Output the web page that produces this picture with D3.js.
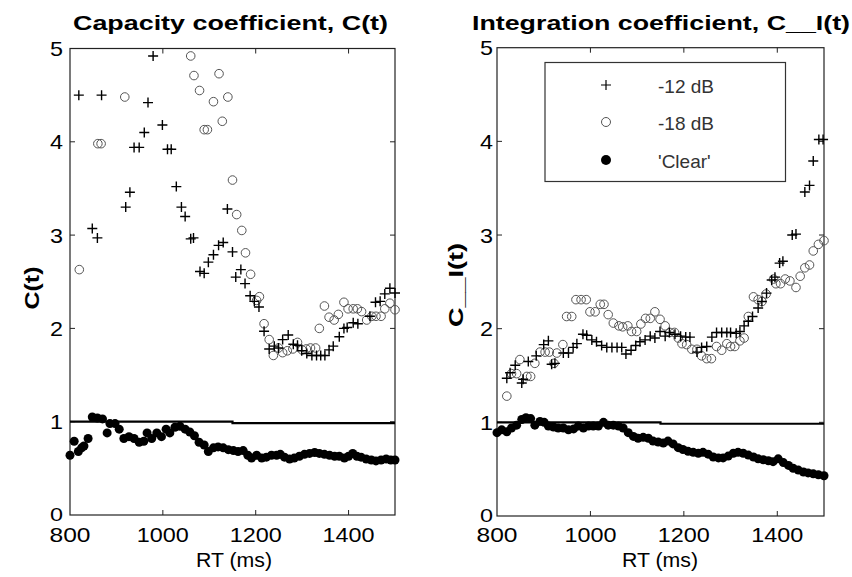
<!DOCTYPE html>
<html><head><meta charset="utf-8">
<script src="https://cdn.jsdelivr.net/npm/d3@7"></script>
<style>body{margin:0;background:#fff}svg{display:block}text{font-family:"Liberation Sans",Arial,sans-serif}</style>
</head><body>
<script>
const xTicks = [800, 1000, 1200, 1400];
const yTicks = [0, 1, 2, 3, 4, 5];
const legendLabels = ["-12 dB", "-18 dB", "'Clear'"];
// reference line (two segments)
const refLine = [[800, 1.0], [1150, 1.0], [1150, 0.985], [1500, 0.985]];

// Capacity coefficient C(t)
const capM12 = [[819,4.50],[848,3.07],[859,2.97],[868,4.50],[920,3.30],[929,3.46],[938,3.94],[949,3.94],[960,4.10],[968,4.42],[979,4.92],[999,4.18],[1010,3.92],[1018,3.92],[1029,3.52],[1040,3.30],[1048,3.20],[1060,2.96],[1066,2.97],[1080,2.61],[1089,2.59],[1098,2.71],[1109,2.79],[1120,2.89],[1130,2.92],[1139,3.28],[1150,2.82],[1157,2.55],[1168,2.63],[1177,2.48],[1188,2.35],[1197,2.29],[1207,2.23],[1218,1.97],[1229,1.78],[1240,1.81],[1249,1.79],[1258,1.88],[1270,1.93],[1281,1.83],[1290,1.82],[1299,1.76],[1310,1.73],[1321,1.71],[1331,1.71],[1340,1.71],[1349,1.71],[1358,1.77],[1367,1.81],[1380,1.91],[1390,2.00],[1397,2.01],[1410,2.06],[1420,2.05],[1446,2.13],[1458,2.28],[1468,2.29],[1478,2.37],[1489,2.43],[1500,2.38]];
const capM18 = [[820,2.63],[860,3.98],[867,3.98],[918,4.48],[1060,4.92],[1067,4.71],[1079,4.55],[1089,4.13],[1096,4.13],[1109,4.43],[1121,4.73],[1128,4.22],[1140,4.48],[1150,3.59],[1159,3.22],[1170,3.05],[1178,2.81],[1189,2.58],[1202,2.30],[1208,2.34],[1218,2.05],[1229,1.88],[1238,1.71],[1249,1.79],[1258,1.74],[1268,1.76],[1280,1.78],[1290,1.85],[1300,1.77],[1309,1.78],[1318,1.79],[1329,1.79],[1337,2.00],[1348,2.24],[1358,2.12],[1369,2.09],[1378,2.15],[1390,2.28],[1399,2.21],[1410,2.21],[1419,2.21],[1428,2.18],[1439,2.09],[1450,2.13],[1459,2.13],[1470,2.13],[1478,2.21],[1489,2.27],[1500,2.20]];
const capClear = [[800,0.64],[809,0.79],[818,0.68],[825,0.72],[830,0.74],[839,0.82],[848,1.05],[859,1.04],[870,1.03],[880,0.88],[886,0.98],[897,0.98],[906,0.92],[916,0.82],[927,0.84],[938,0.82],[949,0.78],[959,0.79],[966,0.88],[976,0.82],[987,0.88],[997,0.84],[1007,0.92],[1015,0.88],[1026,0.94],[1037,0.95],[1048,0.92],[1058,0.89],[1068,0.85],[1078,0.78],[1089,0.75],[1098,0.68],[1109,0.72],[1119,0.73],[1130,0.72],[1141,0.70],[1152,0.69],[1162,0.68],[1173,0.69],[1183,0.64],[1191,0.61],[1202,0.64],[1213,0.61],[1223,0.62],[1234,0.64],[1245,0.64],[1253,0.65],[1262,0.62],[1273,0.60],[1283,0.61],[1294,0.63],[1305,0.65],[1316,0.66],[1327,0.67],[1337,0.66],[1348,0.65],[1359,0.64],[1370,0.63],[1380,0.63],[1391,0.61],[1400,0.63],[1409,0.66],[1418,0.63],[1427,0.62],[1438,0.60],[1449,0.59],[1459,0.58],[1470,0.59],[1481,0.60],[1491,0.59],[1500,0.59]];

// Integration coefficient C_I(t)
const intM12 = [[821,1.47],[828,1.53],[839,1.61],[853,1.42],[856,1.46],[867,1.65],[884,1.71],[900,1.83],[910,1.87],[917,1.62],[924,1.63],[942,1.74],[953,1.74],[963,1.80],[971,1.84],[984,1.94],[992,1.93],[1003,1.88],[1013,1.86],[1024,1.82],[1035,1.80],[1046,1.80],[1057,1.80],[1067,1.80],[1076,1.73],[1087,1.77],[1097,1.82],[1106,1.86],[1117,1.88],[1128,1.92],[1138,1.90],[1149,1.97],[1160,1.92],[1169,1.96],[1181,1.94],[1193,1.92],[1204,1.91],[1213,1.91],[1228,1.75],[1238,1.80],[1249,1.81],[1260,1.91],[1270,1.96],[1281,1.96],[1292,1.96],[1300,1.96],[1312,1.95],[1320,1.97],[1329,2.03],[1338,2.08],[1347,2.13],[1359,2.22],[1367,2.29],[1377,2.38],[1388,2.52],[1395,2.55],[1405,2.70],[1412,2.72],[1432,3.00],[1440,3.01],[1459,3.46],[1469,3.53],[1477,3.79],[1489,4.02],[1498,4.02]];
const intM18 = [[821,1.28],[831,1.52],[842,1.52],[849,1.67],[864,1.49],[872,1.49],[881,1.63],[892,1.75],[903,1.75],[912,1.75],[922,1.63],[928,1.74],[941,1.83],[949,2.13],[960,2.13],[969,2.31],[980,2.31],[991,2.31],[999,2.18],[1010,2.18],[1021,2.26],[1029,2.26],[1038,2.15],[1049,2.06],[1061,2.03],[1069,2.02],[1080,2.03],[1088,1.97],[1099,1.97],[1108,2.05],[1118,2.11],[1128,2.11],[1138,2.18],[1149,2.10],[1160,2.03],[1170,1.96],[1180,1.96],[1188,1.90],[1196,1.84],[1206,1.83],[1217,1.78],[1228,1.78],[1238,1.71],[1249,1.68],[1259,1.68],[1270,1.81],[1281,1.77],[1292,1.84],[1300,1.81],[1309,1.81],[1320,1.87],[1329,1.90],[1338,2.13],[1349,2.34],[1359,2.31],[1367,2.29],[1376,2.37],[1392,2.53],[1397,2.48],[1407,2.48],[1417,2.53],[1427,2.51],[1440,2.44],[1449,2.56],[1459,2.65],[1469,2.68],[1477,2.83],[1488,2.90],[1500,2.94]];
const intClear = [[800,0.89],[810,0.92],[821,0.90],[831,0.94],[842,0.97],[853,1.03],[862,1.05],[872,1.04],[881,0.97],[892,1.01],[901,1.00],[910,0.96],[921,0.95],[931,0.94],[942,0.94],[953,0.92],[964,0.93],[974,0.96],[985,0.94],[996,0.96],[1006,0.96],[1017,0.96],[1028,1.00],[1038,0.97],[1049,0.97],[1060,0.96],[1070,0.94],[1081,0.89],[1092,0.85],[1102,0.83],[1113,0.84],[1124,0.83],[1134,0.80],[1145,0.79],[1156,0.78],[1166,0.80],[1177,0.77],[1188,0.73],[1198,0.71],[1209,0.69],[1220,0.68],[1231,0.67],[1241,0.68],[1252,0.66],[1263,0.63],[1274,0.62],[1284,0.62],[1295,0.64],[1306,0.67],[1316,0.68],[1327,0.67],[1338,0.65],[1349,0.63],[1359,0.61],[1370,0.60],[1381,0.59],[1391,0.58],[1402,0.61],[1413,0.57],[1424,0.54],[1434,0.51],[1445,0.49],[1456,0.47],[1466,0.46],[1477,0.45],[1488,0.44],[1500,0.43]];

const panels = [
  {x0:70, x1:395, yb:515, yt:48.5, title:"Capacity coefficient, C(t)", tLen:315, tx:230.5,
   ylabel:"C(t)", ylx:38.5, yly:288, ylLen:43, ytickX:63, xlabX:234,
   m12:capM12, m18:capM18, clear:capClear, legend:false},
  {x0:497, x1:824, yb:516, yt:47.7, title:"Integration coefficient, C__I(t)", tLen:378, tx:661,
   ylabel:"C__I(t)", ylx:463, yly:285, ylLen:84, ytickX:493, xlabX:660,
   m12:intM12, m18:intM18, clear:intClear, legend:true}
];

const svg = d3.select("body").append("svg").attr("width", 852).attr("height", 577);
const plusPath = "M-5,0H5M0,-5V5";

panels.forEach(p => {
  const x = d3.scaleLinear().domain([800, 1500]).range([p.x0, p.x1]);
  const y = d3.scaleLinear().domain([0, 5]).range([p.yb, p.yt]);
  const g = svg.append("g");

  // title
  g.append("text").attr("x", p.tx).attr("y", 30).attr("text-anchor", "middle")
    .attr("font-weight", "bold").attr("font-size", 21)
    .attr("textLength", p.tLen).attr("lengthAdjust", "spacingAndGlyphs").text(p.title);

  // y label
  g.append("text").attr("transform", `translate(${p.ylx},${p.yly}) rotate(-90)`)
    .attr("text-anchor", "middle").attr("font-weight", "bold").attr("font-size", 21)
    .attr("textLength", p.ylLen).attr("lengthAdjust", "spacingAndGlyphs").text(p.ylabel);

  // x label
  g.append("text").attr("x", p.xlabX).attr("y", 567).attr("text-anchor", "middle")
    .attr("font-size", 20).attr("textLength", 76).attr("lengthAdjust", "spacingAndGlyphs").text("RT (ms)");

  // frame
  g.append("rect").attr("x", p.x0).attr("y", y(5)).attr("width", p.x1 - p.x0).attr("height", p.yb - y(5))
    .attr("fill", "none").attr("stroke", "#222").attr("stroke-width", 1.2);

  // x ticks
  xTicks.forEach(t => {
    if (t > 800) {
      g.append("line").attr("x1", x(t)).attr("x2", x(t)).attr("y1", p.yb).attr("y2", p.yb - 5).attr("stroke", "#222");
      g.append("line").attr("x1", x(t)).attr("x2", x(t)).attr("y1", y(5)).attr("y2", y(5) + 5).attr("stroke", "#222");
    }
    const s = String(t);
    g.append("text").attr("x", x(t)).attr("y", 542).attr("text-anchor", "middle").attr("font-size", 21)
      .attr("textLength", s.length * 13 + (s.length === 3 ? 2 : 0)).attr("lengthAdjust", "spacingAndGlyphs").text(s);
  });
  // y ticks
  yTicks.forEach(t => {
    if (t > 0 && t < 5) {
      g.append("line").attr("x1", p.x0).attr("x2", p.x0 + 5).attr("y1", y(t)).attr("y2", y(t)).attr("stroke", "#222");
      g.append("line").attr("x1", p.x1).attr("x2", p.x1 - 5).attr("y1", y(t)).attr("y2", y(t)).attr("stroke", "#222");
    }
    const zero = t === 0;
    g.append("text").attr("x", p.ytickX).attr("y", zero ? y(t) + 6 : y(t) + 7.5).attr("text-anchor", "end")
      .attr("font-size", zero ? 18 : 21)
      .attr("textLength", 13).attr("lengthAdjust", "spacingAndGlyphs").text(t);
  });

  // -18 dB circles
  g.selectAll(null).data(p.m18).join("circle")
    .attr("cx", d => x(d[0])).attr("cy", d => y(d[1])).attr("r", 4.3)
    .attr("fill", "none").attr("stroke", "#555").attr("stroke-width", 1);
  // -12 dB pluses
  g.selectAll(null).data(p.m12).join("path")
    .attr("transform", d => `translate(${x(d[0])},${y(d[1])})`).attr("d", plusPath)
    .attr("stroke", "#000").attr("stroke-width", 1.4).attr("fill", "none");
  // reference line
  g.append("path").datum(refLine).attr("d", d3.line().x(d => x(d[0])).y(d => y(d[1])))
    .attr("fill", "none").attr("stroke", "#000").attr("stroke-width", 2.2);
  // clear dots
  g.selectAll(null).data(p.clear).join("circle")
    .attr("cx", d => x(d[0])).attr("cy", d => y(d[1])).attr("r", 4.5).attr("fill", "#000");

  if (p.legend) {
    const lg = g.append("g");
    lg.append("rect").attr("x", 545).attr("y", 62.5).attr("width", 240.5).attr("height", 119)
      .attr("fill", "#fff").attr("stroke", "#333").attr("stroke-width", 1.2);
    const rows = [85, 122, 160];
    lg.append("path").attr("transform", `translate(606,${rows[0]})`).attr("d", plusPath)
      .attr("stroke", "#000").attr("stroke-width", 1.2);
    lg.append("circle").attr("cx", 606).attr("cy", rows[1]).attr("r", 4.5).attr("fill", "none").attr("stroke", "#555");
    lg.append("circle").attr("cx", 606).attr("cy", rows[2]).attr("r", 5).attr("fill", "#000");
    legendLabels.forEach((l, i) => {
      lg.append("text").attr("x", 658).attr("y", rows[i] + 7.5).attr("font-size", 19).attr("fill", "#333").text(l);
    });
  }
});
</script>
</body></html>
